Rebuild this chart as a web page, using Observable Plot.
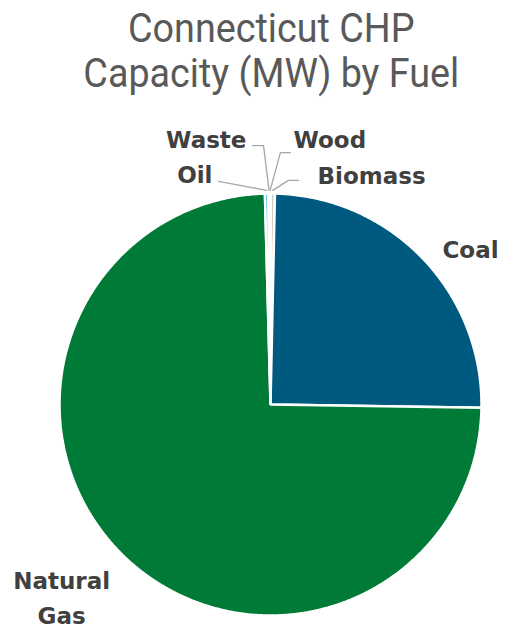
<!DOCTYPE html>
<html>
<head>
<meta charset="utf-8">
<script src="https://cdn.jsdelivr.net/npm/d3@7"></script>
<script src="https://cdn.jsdelivr.net/npm/@observablehq/plot@0.6"></script>
<style>
  html, body { margin: 0; padding: 0; background: #fff; }
  #title {
    width: 507px; height: 100px; box-sizing: border-box;
    padding: 6px 0 0 35px; text-align: center;
    font-family: Roboto, "Noto Sans", sans-serif; font-size: 41px; line-height: 45px;
    color: #595959; white-space: nowrap;
  }
  #title span { display: inline-block; transform: scaleX(0.92); }
</style>
</head>
<body>
<div id="title"><span>Connecticut CHP<br>Capacity (MW) by Fuel</span></div>
<div id="chart"></div>
<script>
// Connecticut combined heat & power capacity, MW, by fuel (drawn clockwise from 12 o'clock)
const fuels = ["Biomass", "Coal", "Natural Gas", "Oil", "Waste", "Wood"];
const capacityMW = [2.8, 207, 618, 2.2, 0.8, 0.5];
const fuelColors = ["#cfcfcf", "#005a80", "#007a37", "#29abe2", "#bdbdbd", "#a6a6a6"];
const labelText = ["Biomass", "Coal", "Natural\nGas", "Oil", "Waste", "Wood"];

// Label placement in pie-radius units (centre = 0,0, y up); leader = elbow points
const labelLayout = {
  "Biomass":     {x: 0.223,  y: 1.047,  anchor: "start",  leader: [[0.133, 1.062], [0.085, 1.062]]},
  "Coal":        {x: 0.815,  y: 0.692,  anchor: "start",  leader: null},
  "Natural Gas": {x: -0.990, y: -1.038, anchor: "middle", leader: null},
  "Oil":         {x: -0.275, y: 1.052,  anchor: "end",    leader: [[-0.246, 1.057]]},
  "Waste":       {x: -0.114, y: 1.218,  anchor: "end",    leader: [[-0.085, 1.227], [-0.033, 1.227]]},
  "Wood":        {x: 0.109,  y: 1.218,  anchor: "start",  leader: [[0.095, 1.194], [0.047, 1.194]]}
};

const rows = fuels.map((fuel, i) => ({fuel, mw: capacityMW[i], label: labelText[i]}));
const arcs = d3.pie().sort(null).value(d => d.mw)(rows);

// Polygon outline of each wedge: centre, then points along its arc
const slicePts = [];
for (const a of arcs) {
  const n = Math.max(2, Math.ceil((a.endAngle - a.startAngle) / (Math.PI / 360)));
  slicePts.push({fuel: a.data.fuel, x: 0, y: 0});
  for (let k = 0; k <= n; k++) {
    const t = a.startAngle + (a.endAngle - a.startAngle) * k / n;
    slicePts.push({fuel: a.data.fuel, x: Math.sin(t), y: Math.cos(t)});
  }
}

// Leader lines: from label elbow(s) to the rim at each wedge's mid-angle
const leaderPts = [];
for (const a of arcs) {
  const L = labelLayout[a.data.fuel];
  if (!L.leader) continue;
  const mid = (a.startAngle + a.endAngle) / 2;
  for (const [x, y] of L.leader) leaderPts.push({fuel: a.data.fuel, x, y});
  leaderPts.push({fuel: a.data.fuel, x: 1.015 * Math.sin(mid), y: 1.015 * Math.cos(mid)});
}

const labels = rows.map(r => ({...r, ...labelLayout[r.fuel]}));
const labelMark = anchor => Plot.text(labels.filter(d => d.anchor === anchor), {
  x: "x", y: "y", text: "label", textAnchor: anchor,
  lineAnchor: "bottom", lineHeight: 1.5,
  fontFamily: "'DejaVu Sans', sans-serif",
  fontSize: 23, fontWeight: "bold", fill: "#404040"
});

const W = 507, H = 535, R = 211, cx = 270, cy = 304;

const chart = Plot.plot({
  width: W,
  height: H,
  margin: 0,
  x: {domain: [-cx / R, (W - cx) / R], range: [0, W], axis: null},
  y: {domain: [-(H - cy) / R, cy / R], range: [H, 0], axis: null},
  color: {domain: fuels, range: fuelColors},
  style: {fontFamily: "Roboto, 'Noto Sans', sans-serif", background: "#fff"},
  marks: [
    Plot.line(slicePts, {
      x: "x", y: "y", z: "fuel", fill: "fuel",
      stroke: "#fff", strokeWidth: 2.5, strokeLinejoin: "miter",
      curve: "linear-closed"
    }),
    Plot.line(leaderPts, {x: "x", y: "y", z: "fuel", stroke: "#a6a6a6", strokeWidth: 1.3}),
    labelMark("start"),
    labelMark("end"),
    labelMark("middle")
  ]
});
document.getElementById("chart").append(chart);
</script>
</body>
</html>
